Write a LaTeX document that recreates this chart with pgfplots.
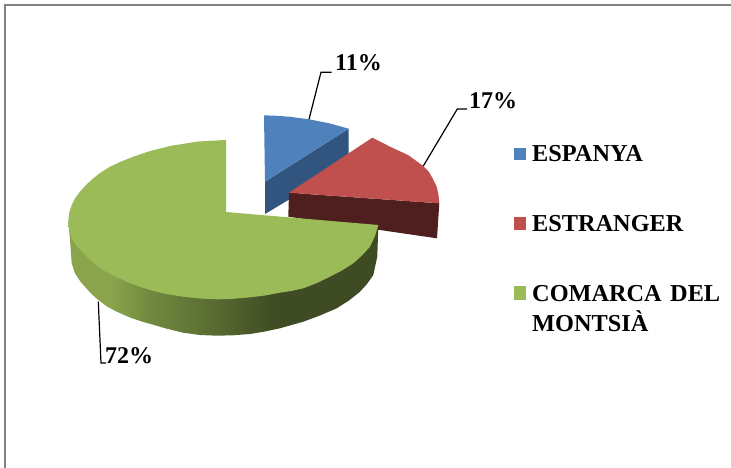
\documentclass[border=0pt]{standalone}
\usepackage{pgfplots}
\pgfplotsset{compat=1.18}
\usepackage{fontspec}
\setmainfont{Liberation Serif}
\definecolor{blueTop}{HTML}{4F81BD}
\definecolor{blueSide}{HTML}{32557F}
\definecolor{redTop}{HTML}{C0504D}
\definecolor{redSide}{HTML}{4F1F1F}
\definecolor{greenTop}{HTML}{9BBB59}
\definecolor{frameGray}{HTML}{808080}
\definecolor{gs1}{HTML}{8AA44C}
\definecolor{gs2}{HTML}{71893F}
\definecolor{gs3}{HTML}{576A31}
\definecolor{gs4}{HTML}{3F4B23}
% side of the green slice, light on the left, dark from x=275 on
\pgfdeclarehorizontalshading{greenside}{100bp}{
  color(0bp)=(gs1);
  color(31.8bp)=(gs1);
  color(38.2bp)=(gs2);
  color(49bp)=(gs3);
  color(58.4bp)=(gs4);
  color(100bp)=(gs4)}
\newcommand{\lab}[1]{\fontsize{24}{26}\selectfont\bfseries #1}
\newcommand{\leg}[1]{\fontsize{24.3}{27}\selectfont\bfseries #1}
\begin{document}
\begin{tikzpicture}
\begin{axis}[
    width=731pt, height=468pt, scale only axis,
    xmin=0, xmax=731,
    ymin=0, ymax=468,
    y dir=reverse,
    hide axis,
]
% keeps the page as large as the whole axis
\addplot[white, line width=0.1pt] coordinates {(0,0)(731,0)(731,468)(0,468)} --cycle;
% frame
\addplot[frameGray, line width=1.7pt] coordinates {(4.8,468)(4.8,5)(731,5)};

% blue slice
\addplot[fill=blueSide, draw=none] coordinates {
    (265,181.7)(348.7,128.7)(348.5,154)(330,175)(265,214)} --cycle;
\addplot[fill=blueTop, draw=none] coordinates {
    (264,115.3)(277,115.8)(290,116.8)(309,119.3)(330,123.5)(348.7,128.7)(265,181.7)} --cycle;

% red slice
\addplot[fill=redSide, draw=none] coordinates {
    (289,192.7)(439.3,203.3)(437,238.3)(288.3,216.7)} --cycle;
\addplot[fill=redTop, draw=none] coordinates {
    (289,192.7)(372.3,137.7)(381,142)(390,146.7)(408,155)(423.3,166)(429,172)(433,179)
    (436.7,186.7)(438.5,195)(439.3,203.3)} --cycle;

% green slice
\addplot[shading=greenside, draw=none] coordinates {
    (68.3,222)(70,240)(71.7,263.3)(75,273.3)(80,281)(85,286.7)(91,293.5)(98.3,300)
    (107,306.5)(116.7,311.7)(130,317.5)(143.3,322)(150,323.8)(166,328.5)(183,332.7)
    (200,335)(216.7,335.7)(233,335.3)(250,334)(265,331.5)(280,328.3)(303.3,321.7)
    (320,315.5)(336.7,308.3)(349,300.5)(360,291.7)(367,284)(373.3,275)(377.3,256.7)
    (378.3,226)(300,250)(150,250)} --cycle;
\addplot[fill=greenTop, draw=none] coordinates {
    (226,140)(198,141.5)(170,146)(150,151)(133.3,156.7)(120,162)(110,166.7)(100,173)
    (93.3,178.3)(86,185)(80,191.7)(75,198.5)(71.7,205)(69,213)(68.3,221.7)(69.3,230)
    (71.7,238.3)(76.5,246)(83.3,253.3)(91,261)(100,268.3)(112,275)(126.7,281.7)(138,286)
    (150,290)(166,294)(183,296.7)(200,298.5)(216.7,299.3)(233,298.8)(250,297.3)(265,295.5)
    (280,292.7)(291,291)(303.3,288.3)(317,283)(330,276.7)(342,270.5)(353.3,263.3)
    (362,255.5)(370,246.7)(375,236)(378.3,225)(226,212)} --cycle;

% leader lines
\addplot[black, line width=1.2pt] coordinates {(309,119.3)(321,72.3)(331.7,72.3)};
\addplot[black, line width=1.2pt] coordinates {(423.3,166)(457.3,109)(467,109)};
\addplot[black, line width=1.2pt] coordinates {(98.3,301.7)(101,363)(106,363)};

% legend swatches
\addplot[fill=blueTop, draw=none] coordinates {(514,148)(525.5,148)(525.5,160)(514,160)} --cycle;
\addplot[fill=redTop, draw=none] coordinates {(514,217)(525.5,217)(525.5,230)(514,230)} --cycle;
\addplot[fill=greenTop, draw=none] coordinates {(514,286)(525.5,286)(525.5,300)(514,300)} --cycle;

\node[anchor=base west, inner sep=0pt] at (axis cs:335,70.7) {\lab{11\%}};
\node[anchor=base west, inner sep=0pt] at (axis cs:469,108.5) {\lab{17\%}};
\node[anchor=base west, inner sep=0pt] at (axis cs:105,363) {\lab{72\%}};
\node[anchor=base west, inner sep=0pt] at (axis cs:532,161.7) {\leg{ESPANYA}};
\node[anchor=base west, inner sep=0pt] at (axis cs:532,231.7) {\leg{ESTRANGER}};
\node[anchor=base west, inner sep=0pt] at (axis cs:532,301.7) {\leg{\makebox[188pt][s]{COMARCA\hfil\ DEL}}};
\node[anchor=base west, inner sep=0pt] at (axis cs:532,331.7) {\leg{MONTSIÀ}};
\end{axis}
\end{tikzpicture}
\end{document}
